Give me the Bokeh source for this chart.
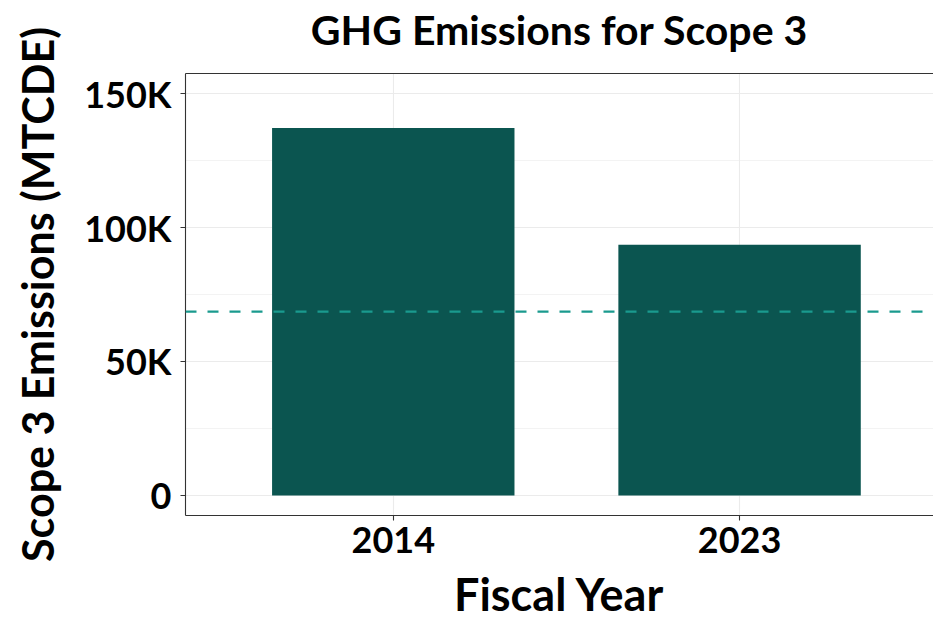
from bokeh.plotting import figure
from bokeh.models import Range1d, FixedTicker, LinearAxis, Span
from bokeh.embed import file_html
from bokeh.resources import INLINE

# ---- data ----
years = ["2014", "2023"]
emissions = [137200, 93600]
target = 68600  # 50% reduction target from the 2014 baseline
y_ticks = [0, 50000, 100000, 150000]
y_tick_labels = ["0", "50K", "100K", "150K"]
y_minor = [25000, 75000, 125000]
title_text = "GHG Emissions for Scope 3"
x_title = "Fiscal Year"
y_title = "Scope 3 Emissions (MTCDE)"

FONT = "Lato"
BAR = "#0B5550"
DASH = "#1A9A8E"
BORDER = "#333333"
GRID = "#EBEBEB"

xs = list(range(1, len(years) + 1))

p = figure(width=933, height=623, output_backend="svg", toolbar_location=None,
           x_range=Range1d(0.4, 2.56), y_range=Range1d(-7500, 157500),
           min_border_left=185, min_border_right=0, min_border_top=73, min_border_bottom=107)

p.background_fill_color = "white"
p.border_fill_color = "white"
p.outline_line_color = None

# bars and target line
p.vbar(x=xs, top=emissions, width=0.7, bottom=0, fill_color=BAR, line_color=None)
p.add_layout(Span(location=target, dimension="width", line_color=DASH,
                  line_width=2.2, line_dash="11 11", level="overlay"))

# axes
xa = p.xaxis[0]
xa.ticker = FixedTicker(ticks=xs)
xa.major_label_overrides = {x: y for x, y in zip(xs, years)}
ya = p.yaxis[0]
ya.ticker = FixedTicker(ticks=y_ticks, minor_ticks=y_minor)
ya.major_label_overrides = {t: l for t, l in zip(y_ticks, y_tick_labels)}

for ax in (xa, ya):
    ax.axis_line_color = BORDER
    ax.axis_line_width = 1.1
    ax.major_tick_line_color = BORDER
    ax.major_tick_line_width = 1.1
    ax.major_tick_out = 5
    ax.major_tick_in = 0
    ax.minor_tick_line_color = None
    ax.major_label_text_font = FONT
    ax.major_label_text_font_style = "bold"
    ax.major_label_text_font_size = "36px"
    ax.major_label_text_color = "black"
    ax.axis_label_text_font = FONT
    ax.axis_label_text_font_style = "bold"
    ax.axis_label_text_color = "black"

xa.axis_label = x_title
xa.axis_label_text_font_size = "45px"
xa.major_label_standoff = 6
xa.axis_label_standoff = 11
ya.axis_label = y_title
ya.axis_label_text_font_size = "43px"
ya.major_label_standoff = 9
ya.axis_label_standoff = 18

# top border line carrying the chart title
top_axis = LinearAxis(ticker=FixedTicker(ticks=[]), axis_line_color=BORDER,
                      axis_line_width=1.1, major_label_text_font_size="0px",
                      major_tick_line_color=None, minor_tick_line_color=None,
                      major_tick_out=0, major_label_standoff=0,
                      axis_label=title_text, axis_label_standoff=20,
                      axis_label_text_font=FONT, axis_label_text_font_style="bold",
                      axis_label_text_font_size="41px", axis_label_text_color="black")
p.add_layout(top_axis, "above")

# grid
p.xgrid.grid_line_color = GRID
p.xgrid.grid_line_width = 1.1
p.ygrid.grid_line_color = GRID
p.ygrid.grid_line_width = 1.1
p.ygrid.minor_grid_line_color = GRID
p.ygrid.minor_grid_line_width = 0.6

open("out.html", "w").write(file_html(p, INLINE))
